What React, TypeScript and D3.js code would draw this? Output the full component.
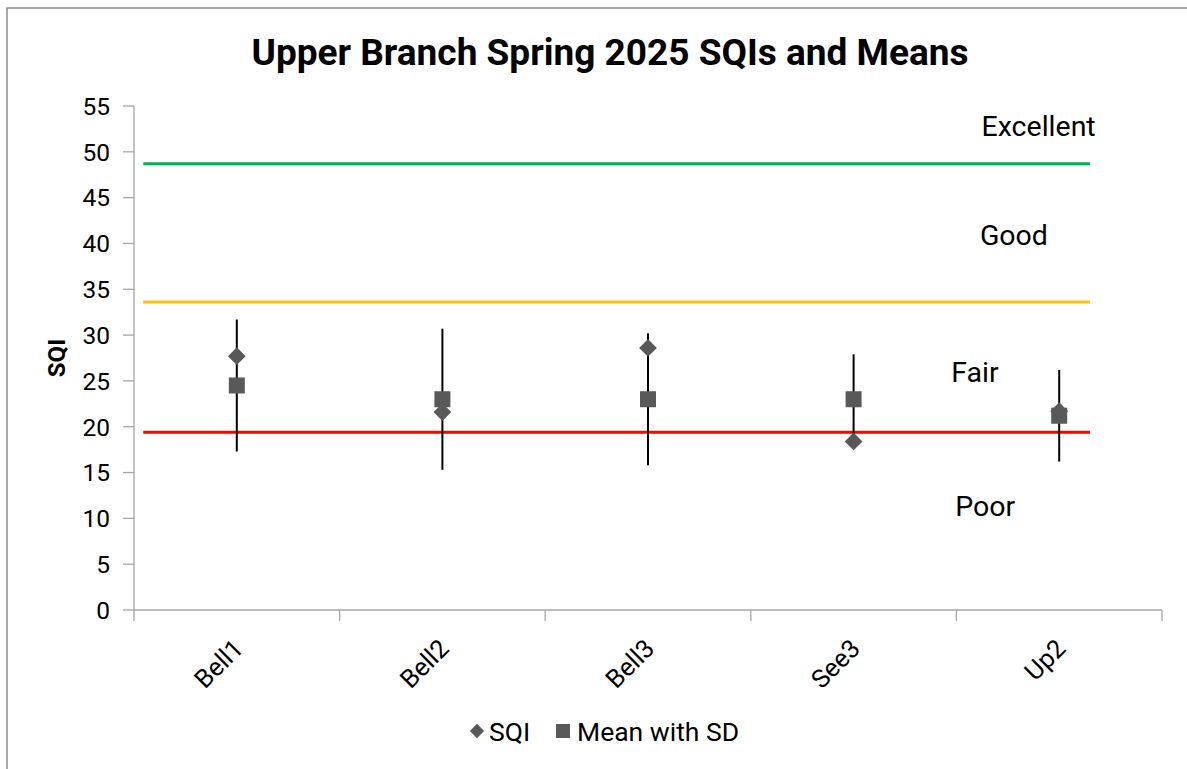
import React from 'react'
import * as d3 from 'd3'

const sites = ['Bell1', 'Bell2', 'Bell3', 'See3', 'Up2']
const sqi = [27.7, 21.6, 28.6, 18.4, 21.7]
const means = [24.5, 23.0, 23.0, 23.0, 21.2]
const sds = [7.2, 7.7, 7.2, 4.9, 5.0]

const yTicks = [0, 5, 10, 15, 20, 25, 30, 35, 40, 45, 50, 55]

// threshold lines, x in category units (0.5 = left edge of plot)
const thresholds = [
  { value: 48.7, color: '#00b050', x0: 0.545, x1: 5.15 },
  { value: 33.6, color: '#ffc000', x0: 0.545, x1: 5.15 },
  { value: 19.4, color: '#ff0000', x0: 0.545, x1: 5.15 },
]
const zoneLabels = [
  { text: 'Excellent', value: 52.9, x: 4.9 },
  { text: 'Good', value: 41.0, x: 4.78 },
  { text: 'Fair', value: 26.0, x: 4.59 },
  { text: 'Poor', value: 11.35, x: 4.64 },
]

const W = 1187
const H = 769
const margin = { left: 134, right: 25, top: 106, bottom: 159 }
const FONT = 'Roboto, "Noto Sans", sans-serif'
const MARK = '#595959'

export default function App() {
  const x = d3
    .scaleLinear()
    .domain([0.5, sites.length + 0.5])
    .range([margin.left, W - margin.right])
  const y = d3
    .scaleLinear()
    .domain([0, 55])
    .range([H - margin.bottom, margin.top])

  const diamond = d3.symbol().type(d3.symbolDiamond2).size(200)

  return (
    <svg
      width={W}
      height={H}
      style={{ position: 'absolute', left: 0, top: 0, background: '#fff' }}
      fontFamily={FONT}
    >
      <rect x={7} y={8} width={W + 10} height={H + 10} fill="#fff" stroke="#8c8c8c" strokeWidth={1.5} />

      <text x={610} y={65} textAnchor="middle" fontSize={37} fontWeight="bold" fill="#000">
        Upper Branch Spring 2025 SQIs and Means
      </text>

      {/* y axis */}
      <line x1={x(0.5)} x2={x(0.5)} y1={y(55)} y2={y(0)} stroke="#a6a6a6" strokeWidth={1.3} />
      {yTicks.map((t) => (
        <g key={t}>
          <line x1={x(0.5) - 11} x2={x(0.5)} y1={y(t)} y2={y(t)} stroke="#a6a6a6" strokeWidth={1.3} />
          <text x={x(0.5) - 24} y={y(t)} dy="0.36em" textAnchor="end" fontSize={24.5} fill="#000">
            {t}
          </text>
        </g>
      ))}
      <text
        transform={`translate(65,${y(27.5)}) rotate(-90)`}
        textAnchor="middle"
        fontSize={24}
        fontWeight="bold"
      >
        SQI
      </text>

      {/* x axis */}
      <line x1={x(0.5)} x2={x(sites.length + 0.5)} y1={y(0)} y2={y(0)} stroke="#a6a6a6" strokeWidth={1.3} />
      {d3.range(sites.length + 1).map((i) => (
        <line
          key={i}
          x1={x(i + 0.5)}
          x2={x(i + 0.5)}
          y1={y(0)}
          y2={y(0) + 11}
          stroke="#a6a6a6"
          strokeWidth={1.3}
        />
      ))}
      {sites.map((s, i) => (
        <text
          key={s}
          transform={`translate(${x(i + 1) + 8},${y(0) + 40}) rotate(-45)`}
          textAnchor="end"
          fontSize={25.5}
        >
          {s}
        </text>
      ))}

      {/* thresholds */}
      {thresholds.map((t) => (
        <line
          key={t.color}
          x1={x(t.x0)}
          x2={x(t.x1)}
          y1={y(t.value)}
          y2={y(t.value)}
          stroke={t.color}
          strokeWidth={3}
        />
      ))}
      {zoneLabels.map((z) => (
        <text key={z.text} x={x(z.x)} y={y(z.value)} dy="0.36em" textAnchor="middle" fontSize={28.5}>
          {z.text}
        </text>
      ))}

      {/* error bars */}
      {sites.map((s, i) => (
        <line
          key={s}
          x1={x(i + 1)}
          x2={x(i + 1)}
          y1={y(means[i] + sds[i])}
          y2={y(means[i] - sds[i])}
          stroke="#000"
          strokeWidth={2}
        />
      ))}
      {/* means */}
      {sites.map((s, i) => (
        <rect key={s} x={x(i + 1) - 8} y={y(means[i]) - 8} width={16} height={16} fill={MARK} />
      ))}
      {/* SQI */}
      {sites.map((s, i) => (
        <path
          key={s}
          d={diamond() as string}
          transform={`translate(${x(i + 1)},${y(sqi[i])})`}
          fill={MARK}
        />
      ))}

      {/* legend */}
      <path d={d3.symbol().type(d3.symbolDiamond2).size(130)() as string} transform="translate(477,731)" fill={MARK} />
      <text x={489} y={731} dy="0.36em" fontSize={26.5}>
        SQI
      </text>
      <rect x={556} y={724} width={14} height={14} fill={MARK} />
      <text x={577} y={731} dy="0.36em" fontSize={26.5}>
        Mean with SD
      </text>
    </svg>
  )
}
